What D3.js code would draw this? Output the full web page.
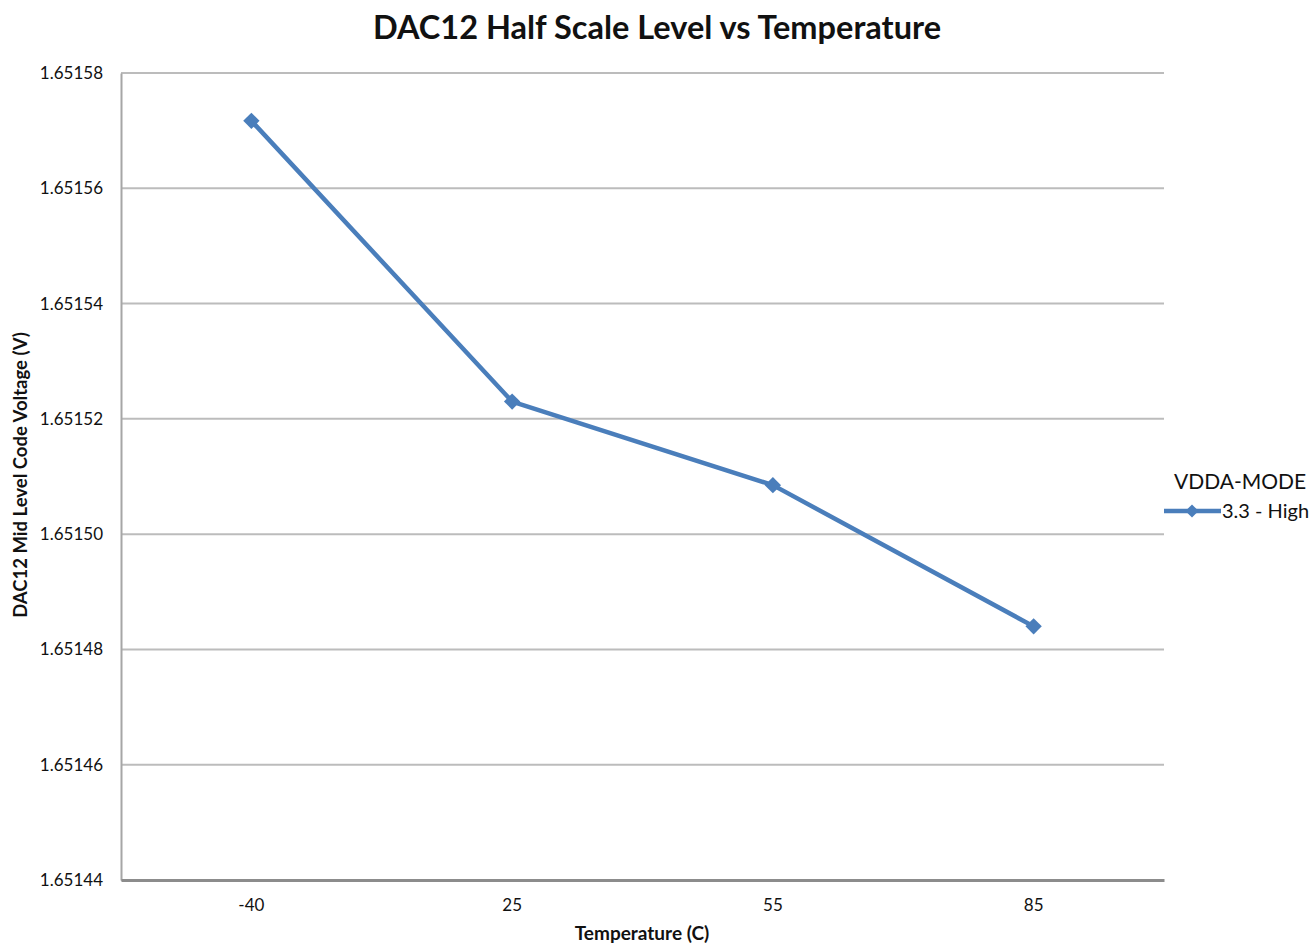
<!DOCTYPE html>
<html>
<head>
<meta charset="utf-8">
<script src="https://cdn.jsdelivr.net/npm/d3@7"></script>
<style>
  body { margin: 0; background: #fff; }
  text { font-family: Lato, "Open Sans", sans-serif; }
</style>
</head>
<body>
<div id="chart"></div>
<script>
const width = 1314;
const height = 944;

// data
const temps = ["-40", "25", "55", "85"];
const voltages = [1.6515717, 1.651523, 1.6515085, 1.651484];
const yTicks = [1.65144, 1.65146, 1.65148, 1.6515, 1.65152, 1.65154, 1.65156, 1.65158];
const seriesName = "3.3 - High";

const margin = {top: 73, right: 150, bottom: 64, left: 121};
const lineColor = "#4a7ebb";

const svg = d3.select("#chart").append("svg")
    .attr("width", width)
    .attr("height", height);

const x = d3.scaleBand()
    .domain(temps)
    .range([margin.left, width - margin.right]);

const y = d3.scaleLinear()
    .domain([1.65144, 1.65158])
    .range([height - margin.bottom, margin.top]);

// gridlines
svg.append("g")
    .selectAll("line")
    .data(yTicks)
    .enter().append("line")
    .attr("x1", margin.left)
    .attr("x2", width - margin.right)
    .attr("y1", d => y(d))
    .attr("y2", d => y(d))
    .attr("stroke", "#bcbcbc")
    .attr("stroke-width", 2);

// y axis
const yAxis = svg.append("g")
    .attr("transform", "translate(" + margin.left + ",0)")
    .call(d3.axisLeft(y).tickValues(yTicks).tickSize(0).tickPadding(18).tickFormat(d3.format(".5f")));
yAxis.select(".domain").attr("stroke", "#a6a6a6").attr("stroke-width", 2);
yAxis.selectAll("text")
    .attr("font-size", 17)
    .attr("fill", "#111");

// x axis
const xAxis = svg.append("g")
    .attr("transform", "translate(0," + (height - margin.bottom) + ")")
    .call(d3.axisBottom(x).tickSize(0).tickPadding(19));
xAxis.select(".domain").attr("stroke", "#8c8c8c").attr("stroke-width", 3);
xAxis.selectAll("text")
    .attr("font-size", 17)
    .attr("fill", "#111");

// line
const line = d3.line()
    .x((d, i) => x(temps[i]) + x.bandwidth() / 2)
    .y(d => y(d));

svg.append("path")
    .datum(voltages)
    .attr("fill", "none")
    .attr("stroke", lineColor)
    .attr("stroke-width", 4.5)
    .attr("stroke-linejoin", "round")
    .attr("d", line);

const diamond = d3.symbol().type(d3.symbolDiamond2).size(170);
svg.append("g")
    .selectAll("path")
    .data(voltages)
    .enter().append("path")
    .attr("d", diamond)
    .attr("transform", (d, i) => "translate(" + (x(temps[i]) + x.bandwidth() / 2) + "," + y(d) + ")")
    .attr("fill", lineColor);

// title
svg.append("text")
    .attr("x", 657)
    .attr("y", 39)
    .attr("text-anchor", "middle")
    .attr("font-size", 32.5)
    .attr("font-weight", "bold")
    .attr("fill", "#111")
    .text("DAC12 Half Scale Level vs Temperature");

// axis titles
svg.append("text")
    .attr("x", 642)
    .attr("y", 940)
    .attr("text-anchor", "middle")
    .attr("font-size", 19)
    .attr("font-weight", "bold")
    .attr("fill", "#111")
    .text("Temperature (C)");

svg.append("text")
    .attr("transform", "translate(27,475) rotate(-90)")
    .attr("text-anchor", "middle")
    .attr("font-size", 18.5)
    .attr("font-weight", "bold")
    .attr("fill", "#111")
    .text("DAC12 Mid Level Code Voltage (V)");

// legend
svg.append("text")
    .attr("x", 1174)
    .attr("y", 489)
    .attr("font-size", 21)
    .attr("fill", "#111")
    .text("VDDA-MODE");

svg.append("line")
    .attr("x1", 1164).attr("x2", 1221)
    .attr("y1", 511).attr("y2", 511)
    .attr("stroke", lineColor)
    .attr("stroke-width", 4.5);
svg.append("path")
    .attr("d", d3.symbol().type(d3.symbolDiamond2).size(110))
    .attr("transform", "translate(1192,511)")
    .attr("fill", lineColor);
svg.append("text")
    .attr("x", 1222)
    .attr("y", 518)
    .attr("font-size", 20)
    .attr("fill", "#111")
    .text(seriesName);
</script>
</body>
</html>
